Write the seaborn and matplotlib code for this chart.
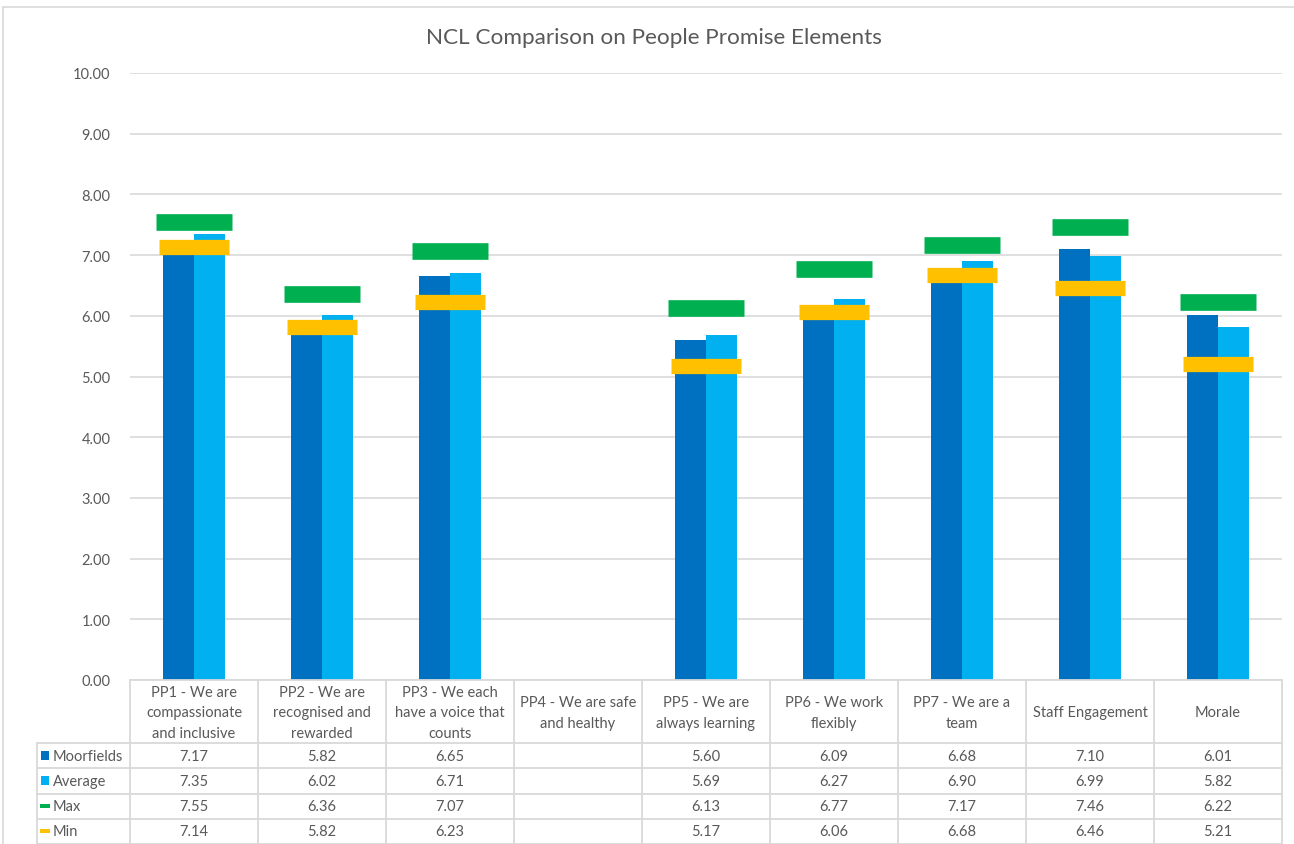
import numpy as np
import pandas as pd
import matplotlib
matplotlib.use("Agg")
import matplotlib.pyplot as plt
from matplotlib.patches import Rectangle
import seaborn as sns

categories = [
    "PP1 - We are\ncompassionate\nand inclusive",
    "PP2 - We are\nrecognised and\nrewarded",
    "PP3 - We each\nhave a voice that\ncounts",
    "PP4 - We are safe\nand healthy",
    "PP5 - We are\nalways learning",
    "PP6 - We work\nflexibly",
    "PP7 - We are a\nteam",
    "Staff Engagement",
    "Morale",
]
moorfields = [7.17, 5.82, 6.65, np.nan, 5.60, 6.09, 6.68, 7.10, 6.01]
average = [7.35, 6.02, 6.71, np.nan, 5.69, 6.27, 6.90, 6.99, 5.82]
max_vals = [7.55, 6.36, 7.07, np.nan, 6.13, 6.77, 7.17, 7.46, 6.22]
min_vals = [7.14, 5.82, 6.23, np.nan, 5.17, 6.06, 6.68, 6.46, 5.21]
series_names = ["Moorfields", "Average", "Max", "Min"]
colors = ["#0070C0", "#00B0F0", "#00B050", "#FFC000"]
y_ticks = np.arange(0, 10.01, 1.0)

sns.set_style("white")
plt.rcParams["font.family"] = ["Lato", "DejaVu Sans"]
TXT = "#595959"
GRID = "#D9D9D9"

W, H = 1294, 845
fig = plt.figure(figsize=(W / 100, H / 100), dpi=100)

# plot area in pixels
LEFT, RIGHT, TOP, BOTTOM = 130, 1282, 74, 681
ax = fig.add_axes([LEFT / W, 1 - BOTTOM / H, (RIGHT - LEFT) / W, (BOTTOM - TOP) / H])

df_bars = pd.DataFrame({
    "cat": categories * 2,
    "series": ["Moorfields"] * len(categories) + ["Average"] * len(categories),
    "value": moorfields + average,
})
sns.barplot(data=df_bars, x="cat", y="value", hue="series", order=categories,
            hue_order=series_names[:2], palette=colors[:2], width=0.48, gap=0,
            saturation=1, errorbar=None, legend=False, linewidth=0, ax=ax, zorder=2)

df_max = pd.DataFrame({"cat": categories, "value": max_vals})
df_min = pd.DataFrame({"cat": categories, "value": min_vals})
sns.pointplot(data=df_max, x="cat", y="value", order=categories, color=colors[2],
              markers="_", linestyles="none", markersize=55, markeredgewidth=12,
              errorbar=None, ax=ax, zorder=3)
sns.pointplot(data=df_min, x="cat", y="value", order=categories, color=colors[3],
              markers="_", linestyles="none", markersize=50, markeredgewidth=11,
              errorbar=None, ax=ax, zorder=4)

ax.set_xlim(-0.5, len(categories) - 0.5)
ax.set_ylim(0, 10)
ax.set_yticks(y_ticks)
ax.set_yticklabels([f"{v:.2f}" for v in y_ticks], color=TXT, fontsize=10.5)
ax.set_xticks([])
ax.set_xlabel("")
ax.set_ylabel("")
ax.tick_params(axis="y", length=0, pad=14)
ax.grid(axis="y", color=GRID, linewidth=1.2, zorder=0)
ax.set_axisbelow(True)
for s in ax.spines.values():
    s.set_visible(False)

# overlay in pixel coords for the title, frame and data table
ov = fig.add_axes([0, 0, 1, 1], zorder=5)
ov.set_xlim(0, W)
ov.set_ylim(H, 0)
ov.axis("off")

ov.plot([3, W], [8, 8], color=GRID, lw=1.2)
ov.plot([3, 3], [8, H], color=GRID, lw=1.2)
ov.text(654, 38, "NCL Comparison on People Promise Elements", ha="center", va="center",
        fontsize=16.2, color=TXT)

col_w = (RIGHT - LEFT) / len(categories)
head_bot = 744
row_h = (H - head_bot) / 4
leg_left = 37
lc = GRID
lw = 1.3

# header
ov.plot([LEFT, RIGHT], [BOTTOM, BOTTOM], color=lc, lw=lw)
for i in range(len(categories) + 1):
    x = LEFT + i * col_w
    ov.plot([x, x], [BOTTOM, H], color=lc, lw=lw)
ov.plot([leg_left, leg_left], [head_bot, H], color=lc, lw=lw)
for r in range(5):
    y = head_bot + r * row_h
    ov.plot([leg_left, RIGHT], [y, y], color=lc, lw=lw)

for i, cat in enumerate(categories):
    ov.text(LEFT + (i + 0.5) * col_w, (BOTTOM + head_bot) / 2 + 1, cat, ha="center",
            va="center", fontsize=10.5, color=TXT, linespacing=1.55)

rows = [moorfields, average, max_vals, min_vals]
for r, (name, vals, c) in enumerate(zip(series_names, rows, colors)):
    yc = head_bot + (r + 0.5) * row_h
    if r < 2:
        ov.add_patch(Rectangle((41, yc - 4.5), 8, 9, color=c, lw=0))
    else:
        ov.add_patch(Rectangle((40, yc - 2), 10, 4, color=c, lw=0))
    ov.text(53, yc, name, ha="left", va="center", fontsize=10.5, color=TXT)
    for i, v in enumerate(vals):
        if not np.isnan(v):
            ov.text(LEFT + (i + 0.5) * col_w, yc, f"{v:.2f}", ha="center",
                    va="center", fontsize=10.5, color=TXT)

fig.savefig("out.png", dpi=100)
